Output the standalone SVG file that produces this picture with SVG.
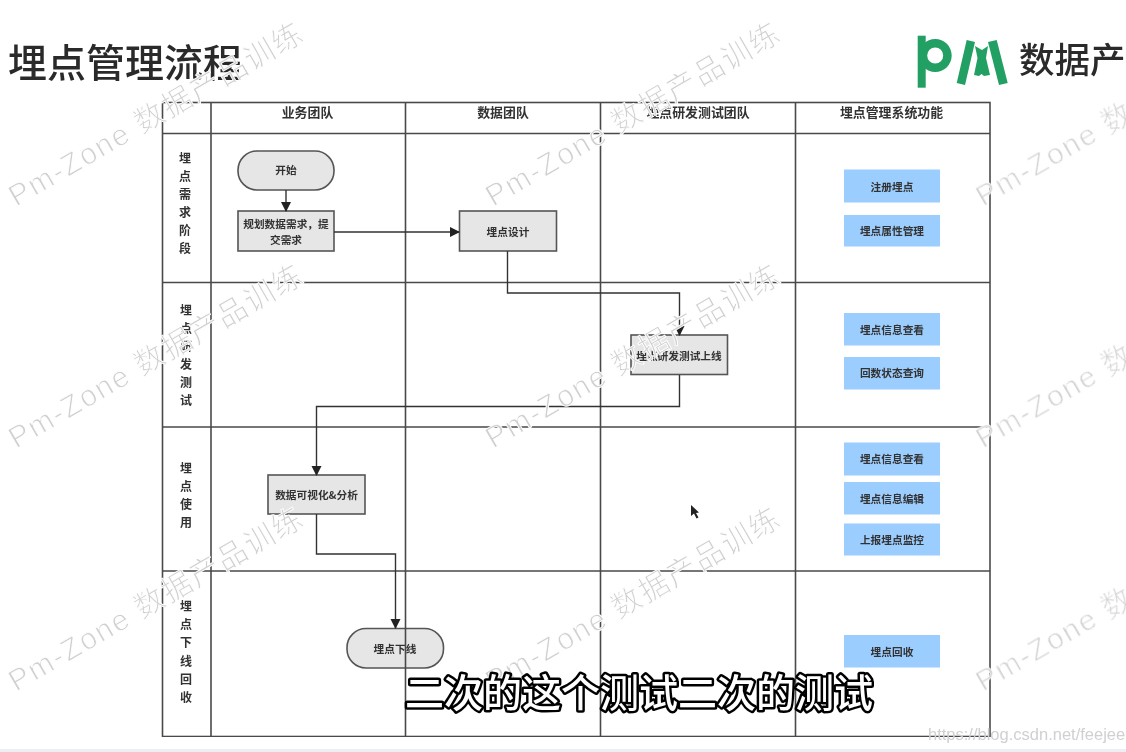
<svg xmlns="http://www.w3.org/2000/svg" width="1126" height="752" viewBox="0 0 1126 752">
<defs>
<filter id="soft" x="0" y="0" width="100%" height="100%"><feGaussianBlur stdDeviation="0.45"/></filter>
<marker id="arr" markerUnits="userSpaceOnUse" markerWidth="10" markerHeight="12" refX="9" refY="5" orient="auto"><path d="M0 0L10 5L0 10Z" fill="#222"/></marker>
<g id="wm"><text class="wm" transform="rotate(-30)">Pm-Zone 数据产品训练</text></g>
</defs>
<style>
text{font-family:"Noto Sans CJK SC","Liberation Sans",sans-serif}
.grid{stroke:#4a4a4a;stroke-width:1.6;fill:none}
.n{fill:#e6e6e6;stroke:#555;stroke-width:1.6}
.b{fill:#9ccdff}
.t{font-size:10.700px;fill:#333;text-anchor:middle;font-weight:700}
.h{font-size:12.900px;fill:#333;text-anchor:middle;font-weight:700}
.l{font-size:12px;fill:#333;text-anchor:middle;font-weight:700}
.c{fill:none;stroke:#333;stroke-width:1.4;marker-end:url(#arr)}
.wm{font-size:30px;letter-spacing:1.700px;fill:#d0d0d0;stroke:#fff;stroke-width:0.9;font-family:"Liberation Sans","Noto Sans CJK SC",sans-serif;font-weight:400}
.sub{font-size:39px;fill:#fff;stroke:#000;stroke-width:5;paint-order:stroke;stroke-linejoin:round;font-weight:500}
</style>
<rect width="1126" height="752" fill="#fff"/>
<rect y="749" width="1126" height="3" fill="#eceef3"/>
<g filter="url(#soft)">
<text x="8" y="77" font-size="39" fill="#2b2b2b" font-weight="500" id="title">埋点管理流程</text>
<g id="logo" fill="#22a063">
<path d="M917.700 35.700h8v52h-8z"/>
<path fill-rule="evenodd" d="M935.200 39a16.500 16.500 0 1 1 0 33a16.500 16.500 0 1 1 0-33zM935.200 47.500a8 8 0 1 0 0 16a8 8 0 1 0 0-16z"/>
<path d="M966.700 40L975 42L965 85L956.700 83Z"/>
<path d="M988 42L996.700 40L1007.700 83L999 85Z"/>
<path d="M975 46L982 50L988 46L986 58L990 75L984 76L981.500 74L979 76L974 75L977.500 58Z"/>
</g>
<text x="1019" y="73" font-size="35.500" fill="#2b2b2b" font-weight="500">数据产</text>
<g id="nodes">
<g id="n-start"><rect class="n" x="238" y="151" width="96" height="39" rx="19" ry="19"/><text class="t" x="286" y="174">开始</text></g>
<g id="n-plan"><rect class="n" x="238" y="211" width="96" height="40"/><text class="t" x="286" y="228">规划数据需求，提</text><text class="t" x="286" y="244">交需求</text></g>
<g id="n-design"><rect class="n" x="459.500" y="211" width="97" height="40"/><text class="t" x="508" y="236">埋点设计</text></g>
<g id="n-test"><rect class="n" x="631" y="335" width="96.500" height="39.500"/><text class="t" x="679" y="360">埋点研发测试上线</text></g>
<g id="n-viz"><rect class="n" x="268" y="475" width="97" height="39"/><text class="t" x="316.500" y="499">数据可视化&amp;分析</text></g>
<g id="n-off"><rect class="n" x="347" y="628.500" width="96.500" height="39.500" rx="19" ry="19"/><text class="t" x="395" y="653">埋点下线</text></g>
<g id="f1"><rect class="b" x="844" y="169.500" width="96" height="33"/><text class="t" x="892" y="191">注册埋点</text></g>
<g id="f2"><rect class="b" x="844" y="215" width="96" height="31.500"/><text class="t" x="892" y="235">埋点属性管理</text></g>
<g id="f3"><rect class="b" x="844" y="313" width="96" height="32.500"/><text class="t" x="892" y="334">埋点信息查看</text></g>
<g id="f4"><rect class="b" x="844" y="357" width="96" height="32.500"/><text class="t" x="892" y="377">回数状态查询</text></g>
<g id="f5"><rect class="b" x="844" y="442.500" width="96" height="33"/><text class="t" x="892" y="463">埋点信息查看</text></g>
<g id="f6"><rect class="b" x="844" y="482" width="96" height="32.500"/><text class="t" x="892" y="503">埋点信息编辑</text></g>
<g id="f7"><rect class="b" x="844" y="523.500" width="96" height="32"/><text class="t" x="892" y="544">上报埋点监控</text></g>
<g id="f8"><rect class="b" x="844" y="635" width="96" height="32.500"/><text class="t" x="892" y="656">埋点回收</text></g>
</g>
<g id="grid" class="grid">
<rect x="162.500" y="102.500" width="827.500" height="634"/>
<path d="M211 102.500V736.500M405.500 102.500V736.500M600.500 102.500V736.500M795.500 102.500V736.500"/>
<path d="M162.500 133.500H990M162.500 282.500H990M162.500 427H990M162.500 571H990"/>
</g>
<g id="headers">
<text class="h" x="307.500" y="117">业务团队</text>
<text class="h" x="503" y="117">数据团队</text>
<text class="h" x="698" y="117">埋点研发测试团队</text>
<text class="h" x="891.500" y="117">埋点管理系统功能</text>
<text class="l" x="185" y="163">埋</text><text class="l" x="185" y="181">点</text><text class="l" x="185" y="199">需</text><text class="l" x="185" y="217">求</text><text class="l" x="185" y="235">阶</text><text class="l" x="185" y="253">段</text>
<text class="l" x="186" y="315">埋</text><text class="l" x="186" y="333">点</text><text class="l" x="186" y="351">研</text><text class="l" x="186" y="369">发</text><text class="l" x="186" y="387">测</text><text class="l" x="186" y="405">试</text>
<text class="l" x="186" y="473">埋</text><text class="l" x="186" y="491">点</text><text class="l" x="186" y="509">使</text><text class="l" x="186" y="527">用</text>
<text class="l" x="186" y="611">埋</text><text class="l" x="186" y="629">点</text><text class="l" x="186" y="647">下</text><text class="l" x="186" y="666">线</text><text class="l" x="186" y="684">回</text><text class="l" x="186" y="702">收</text>
</g>
<g id="connectors">
<path class="c" d="M286 190V211"/>
<path class="c" d="M334 232H459"/>
<path class="c" d="M507.500 251V293H679.500V335"/>
<path class="c" d="M679.500 375V406.500H316.500V475"/>
<path class="c" d="M316.500 514V554H395.500V628"/>
</g>
<g id="watermarks">
<use href="#wm" x="16" y="207"/><use href="#wm" x="493" y="207"/><use href="#wm" x="983" y="207"/>
<use href="#wm" x="16" y="449"/><use href="#wm" x="493" y="449"/><use href="#wm" x="983" y="449"/>
<use href="#wm" x="16" y="692"/><use href="#wm" x="493" y="692"/><use href="#wm" x="983" y="692"/>
</g>
<path id="cursor" d="M691 505V516L694 513.500L696.500 518.500L698.500 517.500L696 513L699 512.500Z" fill="#222"/>
</g>
<text class="sub" x="405" y="707">二次的这个测试二次的测试</text>
<text x="928" y="740" font-size="16.500" fill="#d0d0d0" style="font-family:'Liberation Sans',sans-serif">https://blog.csdn.net/feejee</text>
</svg>
